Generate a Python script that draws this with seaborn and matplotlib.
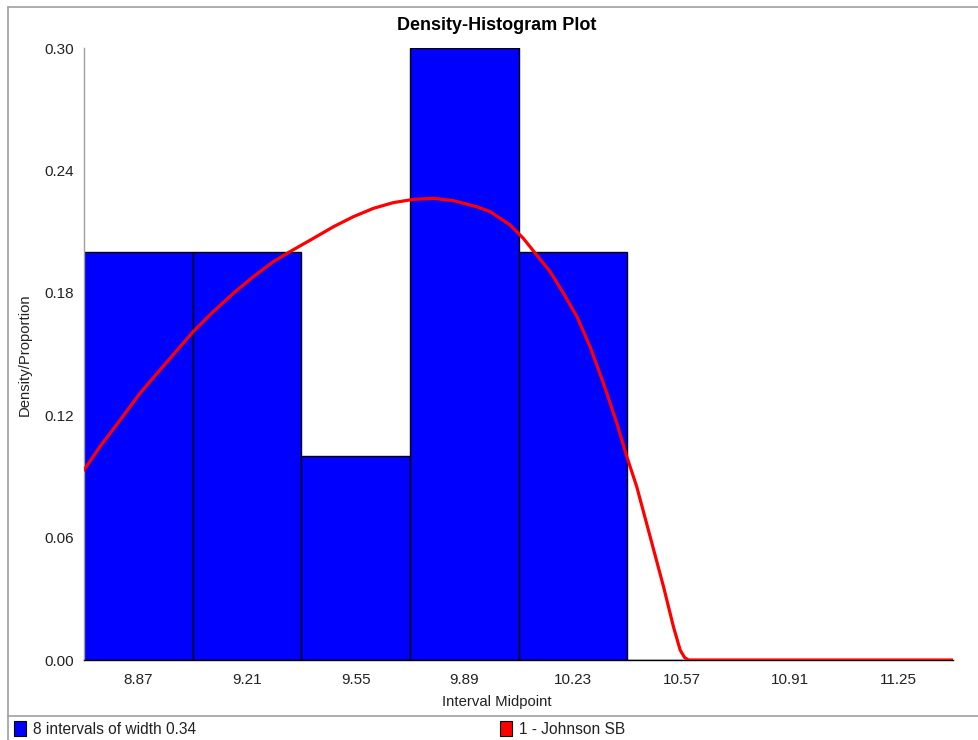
import matplotlib
matplotlib.use("Agg")
import matplotlib.pyplot as plt
import matplotlib.patches as mpatches
import matplotlib.lines as mlines
import seaborn as sns
import pandas as pd

# ---- data ----
midpoints = [8.87, 9.21, 9.55, 9.89, 10.23, 10.57, 10.91, 11.25]
proportions = [0.20, 0.20, 0.10, 0.30, 0.20, 0.0, 0.0, 0.0]
interval_width = 0.34
tick_labels = ["8.87", "9.21", "9.55", "9.89", "10.23", "10.57", "10.91", "11.25"]
y_ticks = [0.00, 0.06, 0.12, 0.18, 0.24, 0.30]

curve_x = [8.700, 8.750, 8.813, 8.875, 8.938, 9.001, 9.042, 9.105, 9.167, 9.230,
           9.293, 9.345, 9.418, 9.481, 9.543, 9.606, 9.668, 9.731, 9.794, 9.856,
           9.929, 9.971, 10.034, 10.075, 10.117, 10.159, 10.201, 10.243, 10.284,
           10.326, 10.368, 10.399, 10.430, 10.472, 10.514, 10.545, 10.566, 10.580,
           10.592, 11.42]
curve_y = [0.0931, 0.1046, 0.1176, 0.1307, 0.1422, 0.1536, 0.1610, 0.1708, 0.1797, 0.1879,
           0.1953, 0.2002, 0.2067, 0.2124, 0.2173, 0.2214, 0.2242, 0.2258, 0.2263, 0.2252,
           0.2222, 0.2198, 0.2132, 0.2067, 0.1985, 0.1904, 0.1797, 0.1683, 0.1536,
           0.1356, 0.1160, 0.0997, 0.0850, 0.0605, 0.0359, 0.0163, 0.0049, 0.0012,
           0.0, 0.0]

title = "Density-Histogram Plot"
xlabel = "Interval Midpoint"
ylabel = "Density/Proportion"
legend_hist = "8 intervals of width 0.34"
legend_curve = "1 - Johnson SB"

# ---- style ----
sns.set_style("white")
plt.rcParams["font.family"] = ["Liberation Sans", "DejaVu Sans"]

W, H = 979, 740
fig = plt.figure(figsize=(W / 100, H / 100), dpi=100)
ax_left, ax_right, ax_top, ax_bottom = 84, 953, 48, 660
ax = fig.add_axes([ax_left / W, 1 - ax_bottom / H,
                   (ax_right - ax_left) / W, (ax_bottom - ax_top) / H])

edges = [m - interval_width / 2 for m in midpoints] + [midpoints[-1] + interval_width / 2]
df = pd.DataFrame({"mid": midpoints, "p": proportions})
sns.histplot(data=df, x="mid", weights="p", bins=edges, stat="count",
             color="#0000ff", edgecolor="black", linewidth=1.0, alpha=1.0, ax=ax)

cdf = pd.DataFrame({"x": curve_x, "y": curve_y})
sns.lineplot(data=cdf, x="x", y="y", color="#ff0000", linewidth=2.3, ax=ax,
             sort=False, estimator=None, zorder=5)

ax.set_xlim(edges[0], edges[-1])
ax.set_ylim(0, 0.30)
ax.set_xticks(midpoints)
ax.set_xticklabels(tick_labels)
ax.set_yticks(y_ticks)
ax.set_yticklabels([f"{v:.2f}" for v in y_ticks])
ax.set_xlabel("")
ax.set_ylabel("")

for s in ["top", "right"]:
    ax.spines[s].set_visible(False)
ax.spines["left"].set_color("#a0a0a0")
ax.spines["left"].set_linewidth(1.0)
ax.spines["bottom"].set_color("black")
ax.spines["bottom"].set_linewidth(1.0)
ax.tick_params(axis="y", which="major", length=5, width=1, color="#a0a0a0",
               labelsize=11, labelcolor="#222222", direction="out", pad=2)
ax.tick_params(axis="x", which="major", length=4, width=1, color="#a0a0a0",
               labelsize=11, labelcolor="#222222", direction="out", pad=5)

# ---- text ----
fig.text(497 / W, 1 - 25 / H, title, ha="center", va="center",
         fontsize=13, fontweight="bold", color="black")
fig.text(497 / W, 1 - 702 / H, xlabel, ha="center", va="center",
         fontsize=10.7, color="#222222")
fig.text(25 / W, 1 - 355 / H, ylabel, ha="center", va="center",
         rotation=90, fontsize=10.7, color="#222222")

# ---- frame lines ----
frame_color = "#a0a0a0"
fig.add_artist(mlines.Line2D([8 / W, 8 / W], [0, 1 - 7 / H], color=frame_color,
                             linewidth=1.2, transform=fig.transFigure))
fig.add_artist(mlines.Line2D([8 / W, 1], [1 - 7 / H, 1 - 7 / H], color=frame_color,
                             linewidth=1.2, transform=fig.transFigure))
fig.add_artist(mlines.Line2D([8 / W, 1], [1 - 716 / H, 1 - 716 / H], color=frame_color,
                             linewidth=1.2, transform=fig.transFigure))

# ---- legend ----
def legend_item(x_px, color, label):
    fig.add_artist(mpatches.Rectangle((x_px / W, 1 - 736 / H), 12 / W, 15 / H,
                                      facecolor=color, edgecolor="black",
                                      linewidth=0.8, transform=fig.transFigure))
    fig.text((x_px + 19) / W, 1 - 729 / H, label, ha="left", va="center",
             fontsize=11.2, color="#222222")

legend_item(14, "#0000ff", legend_hist)
legend_item(500, "#ff0000", legend_curve)

fig.savefig("out.png", dpi=100)
